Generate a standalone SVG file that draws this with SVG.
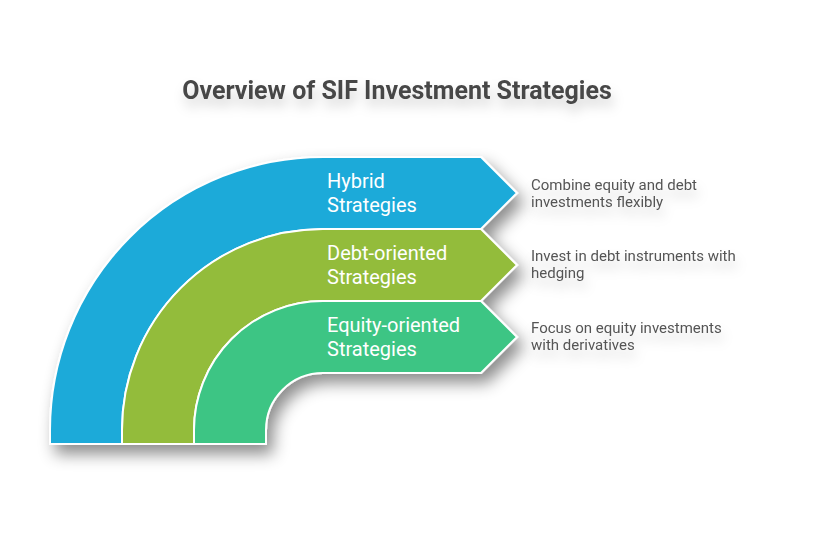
<svg xmlns="http://www.w3.org/2000/svg" width="827" height="550" viewBox="0 0 827 550">
<defs>
<filter id="shadow" x="-20%" y="-20%" width="150%" height="150%">
<feDropShadow dx="6" dy="9" stdDeviation="8" flood-color="#000" flood-opacity="0.45"/>
</filter>
<filter id="tshadow" x="-10%" y="-50%" width="120%" height="250%">
<feDropShadow dx="2" dy="8" stdDeviation="6" flood-color="#000" flood-opacity="0.18"/>
</filter>
<style>
.band{stroke:#fff;stroke-width:2;stroke-linejoin:miter}
.lbl{font-family:Roboto,"Liberation Sans",sans-serif;font-size:20px;fill:#fff}
.desc{font-family:Roboto,"Liberation Sans",sans-serif;font-size:15px;fill:#555}
.title{font-family:Roboto,"Liberation Sans",sans-serif;font-size:25px;font-weight:bold;fill:#474747}
</style>
</defs>
<rect width="827" height="550" fill="#fff"/>
<text class="title" x="397" y="99" text-anchor="middle" filter="url(#tshadow)">Overview of SIF Investment Strategies</text>
<g filter="url(#shadow)">
<g id="hybrid">
<path class="band" fill="#1eaad9" d="M50,444 L50,430 A273,273 0 0 1 323,157 L481,157 L517,193 L481,229 L323,229 A201,201 0 0 0 122,430 L122,444 Z"/>
</g>
<g id="debt">
<path class="band" fill="#93bc3a" d="M122,444 L122,430 A201,201 0 0 1 323,229 L481,229 L517,265 L481,301 L323,301 A129,129 0 0 0 194,430 L194,444 Z"/>
</g>
<g id="equity">
<path class="band" fill="#3dc584" d="M194,444 L194,430 A129,129 0 0 1 323,301 L481,301 L517,337 L481,373 L323,373 A57,57 0 0 0 266,430 L266,444 Z"/>
</g>
</g>
<g id="labels">
<text class="lbl" x="327" y="188">Hybrid</text>
<text class="lbl" x="327" y="212">Strategies</text>
<text class="lbl" x="327" y="260">Debt-oriented</text>
<text class="lbl" x="327" y="284">Strategies</text>
<text class="lbl" x="327" y="332">Equity-oriented</text>
<text class="lbl" x="327" y="356">Strategies</text>
</g>
<g id="descriptions" filter="url(#tshadow)">
<text class="desc" x="531" y="190">Combine equity and debt</text>
<text class="desc" x="531" y="207">investments flexibly</text>
<text class="desc" x="531" y="261">Invest in debt instruments with</text>
<text class="desc" x="531" y="278">hedging</text>
<text class="desc" x="531" y="333">Focus on equity investments</text>
<text class="desc" x="531" y="350">with derivatives</text>
</g>
<g id="connectors"/>
</svg>
